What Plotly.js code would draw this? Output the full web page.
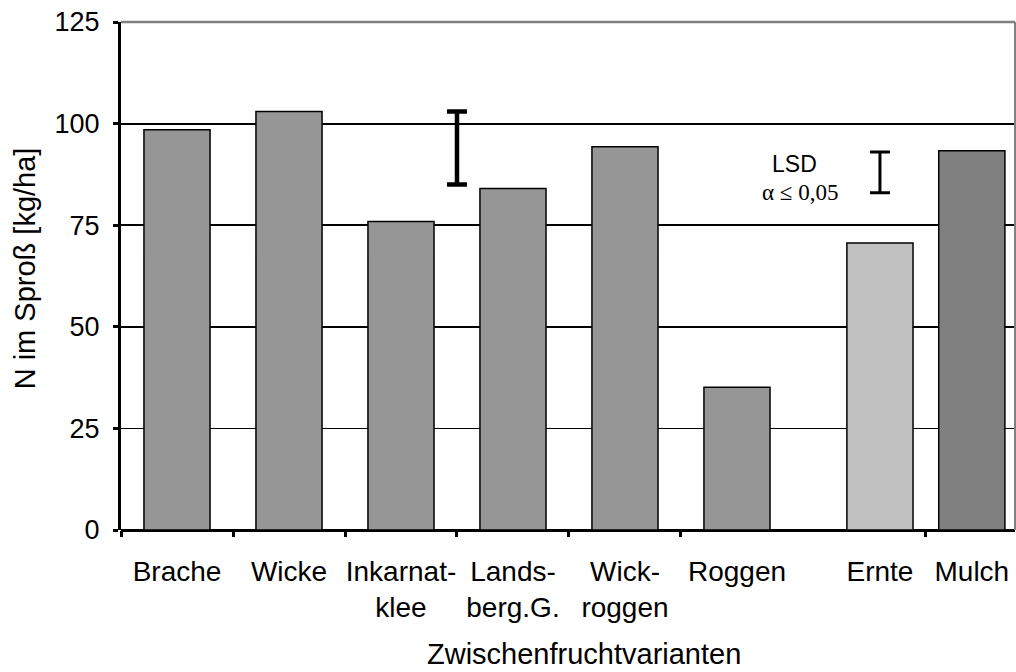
<!DOCTYPE html>
<html>
<head>
<meta charset="utf-8">
<script src="https://cdn.plot.ly/plotly-3.0.1.min.js"></script>
<style>html,body{margin:0;padding:0;background:#fff;}#chart{width:1016px;height:672px;}</style>
</head>
<body>
<div id="chart"></div>
<script>
// ---- data ----
const categoriesMain = ['Brache', 'Wicke', 'Inkarnat-<br>klee', 'Lands-<br>berg.G.', 'Wick-<br>roggen', 'Roggen'];
const valuesMain = [98.5, 103.0, 75.9, 84.0, 94.3, 35.1];
const categoriesUse = ['Ernte', 'Mulch'];
const valuesUse = [70.6, 93.3];
const lsdZwischenfrucht = [85, 103];   // low, high
const lsdNutzung = [83, 93];           // low, high
const yTickValues = [0, 25, 50, 75, 100, 125];
const yTitle = 'N im Sproß [kg/ha]';
const xTitle = 'Zwischenfruchtvarianten';

// ---- helpers ----
const mid = r => (r[0] + r[1]) / 2;
const half = r => (r[1] - r[0]) / 2;
const lsd1X = (categoriesMain.indexOf('Inkarnat-<br>klee') + categoriesMain.indexOf('Lands-<br>berg.G.')) / 2;

const FONT = '"Liberation Sans", Arial, sans-serif';
const SERIF = '"Liberation Serif", "Times New Roman", serif';

const traces = [
  {
    type: 'bar', x: categoriesMain, y: valuesMain, xaxis: 'x', yaxis: 'y',
    width: 0.59,
    marker: {color: '#969696', line: {color: '#000', width: 1.5}},
    hoverinfo: 'skip', showlegend: false
  },
  {
    type: 'bar', x: categoriesUse, y: valuesUse, xaxis: 'x2', yaxis: 'y',
    width: 0.72,
    marker: {color: ['#c0c0c0', '#808080'], line: {color: '#000', width: 1.5}},
    hoverinfo: 'skip', showlegend: false
  },
  {
    // empty filler subplot so grid lines run through the gap
    type: 'scatter', mode: 'markers', xaxis: 'x4', yaxis: 'y', x: [], y: [],
    hoverinfo: 'skip', showlegend: false
  },
  {
    type: 'scatter', mode: 'markers', xaxis: 'x3', yaxis: 'y',
    x: [lsd1X], y: [mid(lsdZwischenfrucht)],
    marker: {size: 1, color: 'rgba(0,0,0,0)'},
    error_y: {type: 'data', array: [half(lsdZwischenfrucht)], visible: true, color: '#000', thickness: 4.5, width: 10},
    hoverinfo: 'skip', showlegend: false, cliponaxis: false
  },
  {
    type: 'scatter', mode: 'markers', xaxis: 'x2', yaxis: 'y',
    x: [categoriesUse[0]], y: [mid(lsdNutzung)],
    marker: {size: 1, color: 'rgba(0,0,0,0)'},
    error_y: {type: 'data', array: [half(lsdNutzung)], visible: true, color: '#000', thickness: 3, width: 10},
    hoverinfo: 'skip', showlegend: false, cliponaxis: false
  }
];

const xCommon = {
  type: 'category', anchor: 'y', showline: false, showgrid: false, zeroline: false,
  ticks: 'outside', tickson: 'boundaries', ticklen: 6, tickwidth: 3, tickcolor: '#000',
  tickangle: 0, automargin: false, ticklabelstandoff: 22,
  tickfont: {family: FONT, size: 28, color: '#000'}, fixedrange: true
};

const layout = {
  width: 1016, height: 672,
  margin: {l: 121, r: 1, t: 22, b: 142, pad: 0},
  paper_bgcolor: '#fff', plot_bgcolor: '#fff',
  font: {family: FONT, color: '#000'},
  showlegend: false,
  bargap: 0,
  xaxis: Object.assign({}, xCommon, {domain: [0, 0.7454], range: [-0.5, 5.45]}),
  xaxis2: Object.assign({}, xCommon, {domain: [0.8027, 1], range: [-0.45, 1.47]}),
  xaxis3: {overlaying: 'x', type: 'linear', range: [-0.5, 5.45], visible: false, anchor: 'y'},
  xaxis4: {domain: [0.7454, 0.8027], type: 'linear', range: [0, 1], anchor: 'y',
           showgrid: false, zeroline: false, showline: false, ticks: '', showticklabels: false, fixedrange: true},
  yaxis: {
    range: [0, 125], tickvals: yTickValues, ticktext: yTickValues.map(String),
    showline: true, linecolor: '#000', linewidth: 3,
    ticks: 'outside', ticklen: 5, tickwidth: 3, tickcolor: '#000', ticklabelstandoff: 8,
    showgrid: true, gridcolor: '#000', gridwidth: 1.8,
    zeroline: true, zerolinecolor: '#000', zerolinewidth: 3,
    tickfont: {family: FONT, size: 27, color: '#000'}, fixedrange: true, automargin: false
  },
  shapes: [
    {type: 'line', xref: 'paper', yref: 'paper', x0: 0, x1: 1, y0: 1, y1: 1, line: {color: '#808080', width: 2.5}, layer: 'above'},
    {type: 'line', xref: 'paper', yref: 'paper', x0: 1, x1: 1, y0: 0, y1: 1, line: {color: '#808080', width: 2}, layer: 'above'}
  ],
  annotations: [
    {text: yTitle, xref: 'paper', yref: 'paper', x: -0.1074, y: 0.515, textangle: -90,
     showarrow: false, xanchor: 'center', yanchor: 'middle', font: {family: FONT, size: 29, color: '#000'}},
    {text: xTitle, xref: 'paper', yref: 'paper', x: 0.518, y: -0.245,
     showarrow: false, xanchor: 'center', yanchor: 'middle', font: {family: FONT, size: 29, color: '#000'}},
    {text: 'LSD', xref: 'paper', yref: 'paper', x: 0.7539, y: 0.7195,
     showarrow: false, xanchor: 'center', yanchor: 'middle', font: {family: FONT, size: 23, color: '#000'}},
    {text: 'α ≤ 0,05', xref: 'paper', yref: 'paper', x: 0.7595, y: 0.664,
     showarrow: false, xanchor: 'center', yanchor: 'middle', font: {family: SERIF, size: 23, color: '#000'}}
  ]
};

Plotly.newPlot('chart', traces, layout, {staticPlot: true, displayModeBar: false});
</script>
</body>
</html>
